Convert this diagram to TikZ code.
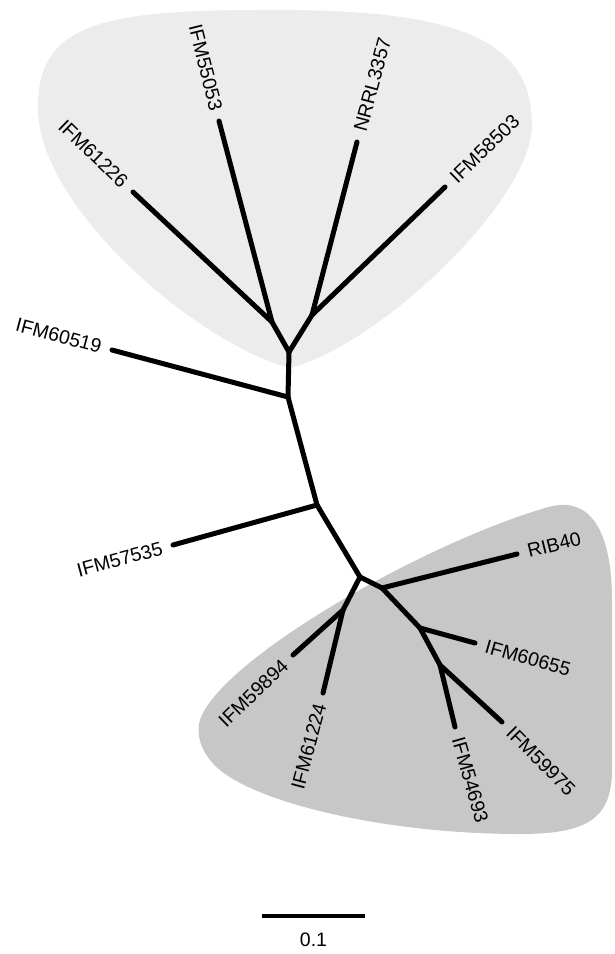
\documentclass[tikz,border=0pt]{standalone}
\usepackage{fontspec}
\setmainfont{Liberation Sans}
\definecolor{lightclade}{RGB}{236,236,236}
\definecolor{darkclade}{RGB}{199,199,199}
\begin{document}
\begin{tikzpicture}
  [x=1pt,y=-1pt,
   branch/.style={line width=5pt,line cap=round},
   strain/.style={inner xsep=11pt,inner ysep=0pt,font=\fontsize{19.5}{22}\selectfont}]
  \useasboundingbox (0,0) rectangle (614,954);

  % clades
  \fill[lightclade] (290,368) .. controls (200,345) and (40,210) .. (38,110)
    .. controls (36,25) and (100,10) .. (260,10)
    .. controls (460,8) and (532,40) .. (532,125)
    .. controls (532,200) and (380,345) .. (290,368) -- cycle;
  \fill[darkclade] (200,720) .. controls (220,660) and (420,545) .. (545,508)
    .. controls (595,492) and (612,540) .. (612,600) -- (612,770)
    .. controls (612,820) and (585,834) .. (520,834)
    .. controls (380,834) and (240,800) .. (210,760)
    .. controls (198,745) and (197,730) .. (200,720) -- cycle;

  % inner nodes
  \coordinate (a) at (289,352);
  \coordinate (b) at (272,322);
  \coordinate (c) at (312,315);
  \coordinate (d) at (288,397);
  \coordinate (e) at (317,505);
  \coordinate (f) at (360,577);
  \coordinate (g) at (343,610);
  \coordinate (h) at (382,588);
  \coordinate (i) at (420,628);
  \coordinate (j) at (440,665);

  % leaves
  \coordinate (l61226) at (133,192);
  \coordinate (l55053) at (219,121);
  \coordinate (l3357) at (357,142);
  \coordinate (l58503) at (445,187);
  \coordinate (l60519) at (112,350);
  \coordinate (l57535) at (173,545);
  \coordinate (lrib40) at (517,554);
  \coordinate (l60655) at (475,643);
  \coordinate (l59975) at (502,722);
  \coordinate (l54693) at (455,727);
  \coordinate (l61224) at (323,693);
  \coordinate (l59894) at (293,655);

  \foreach \from/\to in {a/b, a/c, a/d, b/l61226, b/l55053, c/l3357, c/l58503,
      d/l60519, d/e, e/l57535, e/f, f/g, f/h, g/l59894, g/l61224,
      h/lrib40, h/i, i/l60655, i/j, j/l54693, j/l59975}
    \draw[branch] (\from) -- (\to);

  % strain names
  \node[strain,anchor=east,rotate=-44] (t61226) at (l61226) {IFM61226};
  \node[strain,anchor=east,rotate=-76] (t55053) at (l55053) {IFM55053};
  \node[strain,anchor=west,rotate=75] (t3357) at (l3357) {NRRL3357};
  \node[strain,anchor=west,rotate=44] (t58503) at (l58503) {IFM58503};
  \node[strain,anchor=east,rotate=-15] (t60519) at (l60519) {IFM60519};
  \node[strain,anchor=east,rotate=15] (t57535) at (l57535) {IFM57535};
  \node[strain,anchor=west,rotate=14] (trib40) at (lrib40) {RIB40};
  \node[strain,anchor=west,rotate=-16] (t60655) at (l60655) {IFM60655};
  \node[strain,anchor=west,rotate=-45] (t59975) at (l59975) {IFM59975};
  \node[strain,anchor=west,rotate=-74] (t54693) at (l54693) {IFM54693};
  \node[strain,anchor=east,rotate=75] (t61224) at (l61224) {IFM61224};
  \node[strain,anchor=east,rotate=44] (t59894) at (l59894) {IFM59894};

  % scale bar
  \coordinate (s0) at (262,916);
  \coordinate (s1) at (365,916);
  \draw[line width=4.5pt] (s0) -- (s1);
  \node[strain,inner xsep=0pt] (scale) at (313.5,940) {0.1};
\end{tikzpicture}
\end{document}
